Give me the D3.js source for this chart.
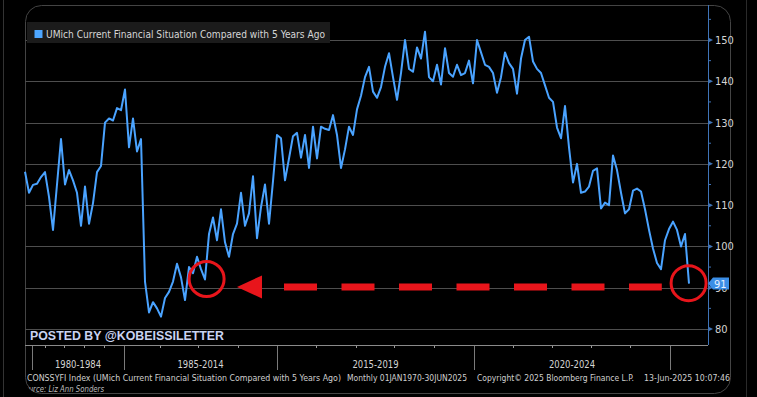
<!DOCTYPE html>
<html>
<head>
<meta charset="utf-8">
<script src="https://cdn.jsdelivr.net/npm/d3@7"></script>
<style>
html, body { margin: 0; padding: 0; background: #000; }
svg { display: block; }
</style>
</head>
<body>
<svg id="chart"></svg>
<script>
const W = 757
const H = 397

// monthly readings of the index, left to right
const values = [
  118.1, 113, 114.9, 115.2, 116.8, 118, 112, 104, 115, 126,
  115, 118.5, 116, 113, 105, 114.5, 105.5, 110.5, 118, 119.5,
  130, 131, 130.5, 133.5, 133, 138, 124, 131, 123, 126,
  91.5, 84, 86.5, 85, 83, 87.5, 89, 91.5, 95.8, 92.5,
  87, 95, 93.5, 97.5, 94.5, 92, 103, 107, 101.5, 109,
  101, 97.5, 103, 105.5, 113, 105, 108, 117, 102, 109.5,
  115, 105.5, 115.8, 127, 126.2, 116, 121.3, 126.7, 127.5, 121.5,
  127, 119, 129, 121.3, 129, 128.5, 128.2, 131.8, 127, 119,
  123.5, 129, 127, 133.2, 136.5, 141, 143.5, 137.5, 136, 138.6,
  143.5, 146.8, 141, 135.5, 142, 150, 143, 142.3, 148.2, 145.5,
  152, 141, 140, 144, 139.2, 148, 142, 141.1, 144, 141.5,
  142, 145, 139.5, 150, 147, 144, 143.5, 142, 137.2, 141,
  147, 144.4, 143, 137, 145.5, 150, 150.8, 144.8, 143, 142,
  139, 136, 135, 128.8, 126.2, 134, 124, 115.5, 120, 113,
  113.3, 114.5, 118.3, 118.9, 109.2, 110.6, 110, 122, 118.5, 113,
  108, 109, 113.5, 114, 113.3, 109, 104, 99.5, 96, 94.5,
  101.5, 104.2, 106, 104, 100, 103, 91
]

const yTicks = [80, 90, 100, 110, 120, 130, 140, 150]
const yMinorTicks = [85, 95, 105, 115, 125, 135, 145, 155]

// x ticks in the same index units as values
const xMinorTicks = [1.75, 5, 9.75, 14.75, 19.75, 24.75, 33.75, 43.25, 53.25, 63,
  72.75, 82.75, 92.25, 102.25, 112.25, 122, 131.75, 141.5, 151.25, 161.25]
const xSeparators = [1.75, 24.75, 63, 112.25, 161.25]
const periodLabels = ["1980-1984", "1985-2014", "2015-2019", "2020-2024"]

const legendLabel = "UMich Current Financial Situation Compared with 5 Years Ago"
const footerParts = [
  "CONSSYFI Index (UMich Current Financial Situation Compared with 5 Years Ago)",
  "Monthly 01JAN1970-30JUN2025",
  "Copyright\u00A9 2025 Bloomberg Finance L.P.",
  "13-Jun-2025 10:07:46"
]
const sourceLabel = "Source: Liz Ann Sonders"
const watermark = "POSTED BY @KOBEISSILETTER"

// red annotation, in data units
const ringOld = {i: 45.4, v: 92.1}
const ringNow = {i: 165.9, v: 91.1}
const arrowLevel = 90.2
const arrowTip = 53
const dashFrom = 64.75
const dashTo = 159.2

const narrow = "'Liberation Sans Narrow', 'DejaVu Sans Condensed', 'Arial Narrow', sans-serif"

const svg = d3.select("#chart").attr("width", W).attr("height", H)

const x = d3.scaleLinear().domain([0, values.length - 1]).range([25, 689])
const y = d3.scaleLinear().domain([80, 150]).range([329, 40])

const defs = svg.append("defs")
defs.append("clipPath").attr("id", "panelClip")
  .append("rect")
  .attr("x", 25).attr("y", 5).attr("width", 706).attr("height", 389).attr("rx", 16)

// outer frame lines of the screenshot
svg.append("line").attr("x1", 3.5).attr("x2", 3.5).attr("y1", 0).attr("y2", H)
  .attr("stroke", "#333")
svg.append("line").attr("x1", 746.5).attr("x2", 746.5).attr("y1", 0).attr("y2", H)
  .attr("stroke", "#2a2a2a")

svg.append("rect")
  .attr("x", 25.5).attr("y", 5.5).attr("width", 705).attr("height", 388).attr("rx", 16)
  .attr("fill", "none").attr("stroke", "#444")

// grid
svg.append("g").selectAll("line")
  .data(yTicks)
  .join("line")
  .attr("x1", 25).attr("x2", 708)
  .attr("y1", d => Math.round(y(d)) + 0.5).attr("y2", d => Math.round(y(d)) + 0.5)
  .attr("stroke", "#4e4e4e")

// legend
svg.append("rect").attr("x", 27).attr("y", 22).attr("width", 303).attr("height", 21)
  .attr("fill", "#1b1b1b")
svg.append("rect").attr("x", 34.5).attr("y", 30).attr("width", 8).attr("height", 8)
  .attr("fill", "#4da6ff")
svg.append("text").attr("x", 46).attr("y", 37.5)
  .attr("font-family", narrow).attr("font-size", 10.5).attr("fill", "#d6d6d6")
  .attr("textLength", 279).attr("lengthAdjust", "spacingAndGlyphs")
  .text(legendLabel)

// right axis
const axisBlue = "#3f74b8"
const yAxis = d3.axisRight(y).tickValues(yTicks).tickSize(0).tickPadding(7)
const gy = svg.append("g").attr("transform", "translate(708,0)").call(yAxis)
gy.select(".domain").remove()
gy.selectAll("text")
  .attr("font-family", narrow).attr("font-size", 11).attr("fill", "#d4d4d4")
svg.append("line").attr("x1", 708.5).attr("x2", 708.5).attr("y1", 5).attr("y2", 345)
  .attr("stroke", axisBlue)
svg.append("g").selectAll("path")
  .data(yTicks)
  .join("path")
  .attr("d", d => `M708,${y(d) - 2.5}L713,${y(d)}L708,${y(d) + 2.5}Z`)
  .attr("fill", axisBlue)
svg.append("g").selectAll("line")
  .data(yMinorTicks)
  .join("line")
  .attr("x1", 708).attr("x2", 711)
  .attr("y1", d => y(d)).attr("y2", d => y(d))
  .attr("stroke", axisBlue)

// x axis
const xAxis = d3.axisBottom(x).tickValues(xMinorTicks).tickSize(3).tickFormat("")
const gx = svg.append("g").attr("transform", "translate(0,345)").call(xAxis)
gx.select(".domain").remove()
gx.selectAll("line").attr("stroke", "#9a9a9a")
svg.append("line").attr("x1", 25).attr("x2", 708).attr("y1", 345.5).attr("y2", 345.5)
  .attr("stroke", "#8a8a8a")
svg.append("g").selectAll("line")
  .data(xSeparators)
  .join("line")
  .attr("x1", d => Math.round(x(d)) + 0.5).attr("x2", d => Math.round(x(d)) + 0.5)
  .attr("y1", 346).attr("y2", 370)
  .attr("stroke", "#7a7a7a")
svg.append("g").selectAll("text")
  .data(periodLabels)
  .join("text")
  .attr("x", (d, i) => x((xSeparators[i] + xSeparators[i + 1]) / 2))
  .attr("y", 368)
  .attr("text-anchor", "middle")
  .attr("font-family", narrow).attr("font-size", 11).attr("fill", "#d4d4d4")
  .attr("textLength", 46).attr("lengthAdjust", "spacingAndGlyphs")
  .text(d => d)

// series
const line = d3.line()
  .x((d, i) => x(i))
  .y(d => y(d))
svg.append("path")
  .datum(values)
  .attr("d", line)
  .attr("fill", "none")
  .attr("stroke", "#4aa3ff")
  .attr("stroke-width", 2)
  .attr("stroke-linejoin", "round")

// last value tag
const last = values[values.length - 1]
const ty = y(last)
svg.append("path")
  .attr("d", `M708,${ty}L713,${ty - 6}L729,${ty - 6}L729,${ty + 6}L713,${ty + 6}Z`)
  .attr("fill", "#3b8ee6")
svg.append("text").attr("x", 714).attr("y", ty + 4)
  .attr("font-family", narrow).attr("font-size", 11).attr("fill", "#e8f1ff")
  .text(d3.format("d")(last))

// watermark
svg.append("text").attr("x", 30).attr("y", 339.5)
  .attr("font-family", "'Liberation Sans', Arial, sans-serif")
  .attr("font-weight", "bold").attr("font-size", 12.5).attr("fill", "#c9d3f2")
  .attr("textLength", 194).attr("lengthAdjust", "spacingAndGlyphs")
  .text(watermark)

// footer
const footerX = [27, 347, 477, 644]
const footerW = [314, 120, 157, 86]
svg.append("g").selectAll("text")
  .data(footerParts)
  .join("text")
  .attr("x", (d, i) => footerX[i])
  .attr("y", 381)
  .attr("font-family", narrow).attr("font-size", 9).attr("fill", "#cfcfcf")
  .attr("textLength", (d, i) => footerW[i]).attr("lengthAdjust", "spacingAndGlyphs")
  .text(d => d)
svg.append("g").attr("clip-path", "url(#panelClip)")
  .append("text").attr("x", 20).attr("y", 391.5)
  .attr("font-family", narrow).attr("font-size", 8).attr("font-style", "italic")
  .attr("fill", "#bdbdbd")
  .attr("textLength", 84).attr("lengthAdjust", "spacingAndGlyphs")
  .text(sourceLabel)

// red annotation
const red = "#e8151b"
const ay = y(arrowLevel)
svg.append("line")
  .attr("x1", x(dashFrom)).attr("x2", x(dashTo))
  .attr("y1", ay).attr("y2", ay)
  .attr("stroke", red).attr("stroke-width", 7)
  .attr("stroke-dasharray", "33,24.5")
svg.append("path")
  .attr("d", `M${x(arrowTip)},${ay}L${x(arrowTip) + 25},${ay - 11.5}L${x(arrowTip) + 25},${ay + 11.5}Z`)
  .attr("fill", red)
svg.append("g").selectAll("circle")
  .data([ringOld, ringNow])
  .join("circle")
  .attr("cx", d => x(d.i)).attr("cy", d => y(d.v))
  .attr("r", 17.5)
  .attr("fill", "none")
  .attr("stroke", red).attr("stroke-width", 3)
</script>
</body>
</html>
